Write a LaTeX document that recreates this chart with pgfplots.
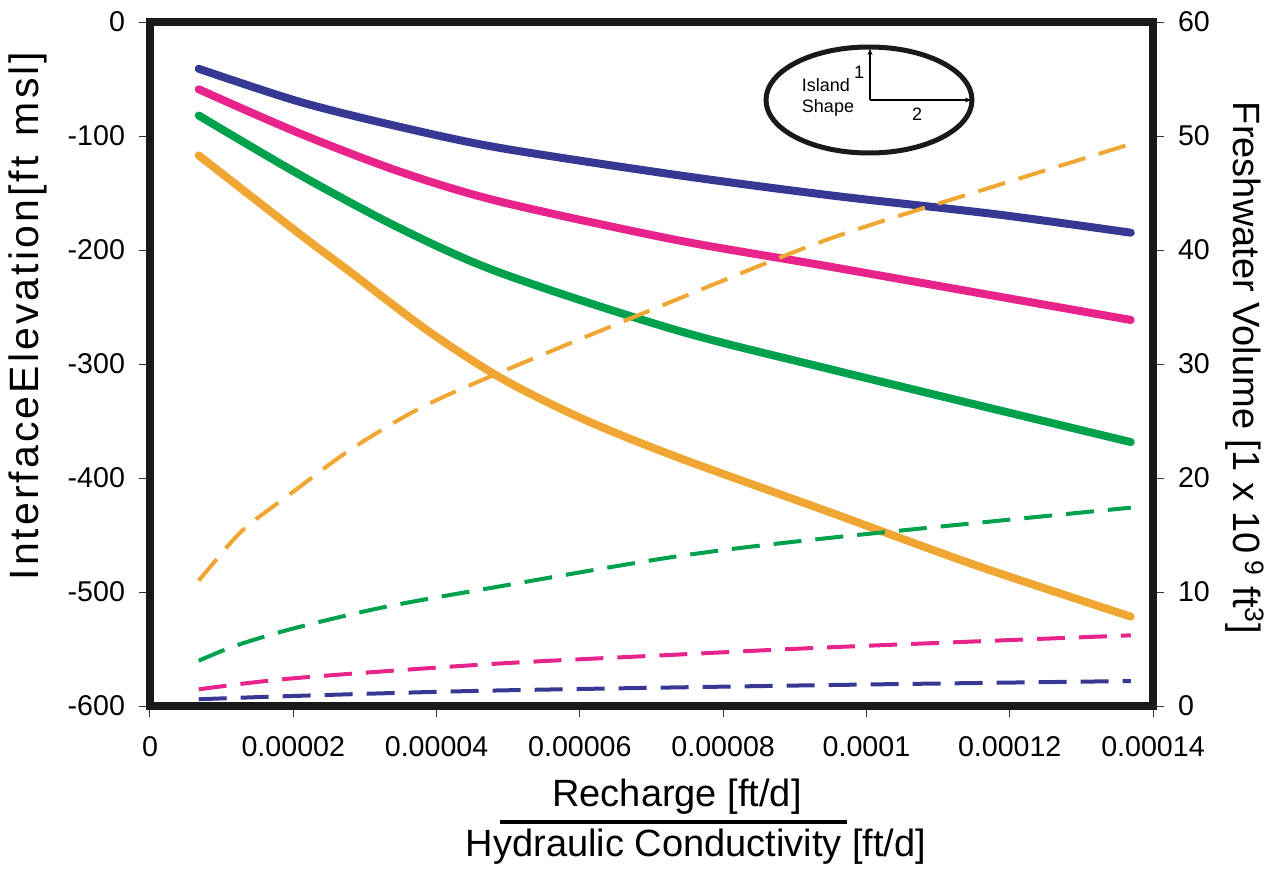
\documentclass[border=0pt]{standalone}
\usepackage{pgfplots}
\pgfplotsset{compat=1.18}
\usepackage{fontspec}
\setmainfont{Liberation Sans}
\newfontfamily\spacedfont[LetterSpace=7.5]{Liberation Sans}
\usetikzlibrary{arrows.meta}
\definecolor{cblue}{RGB}{54,56,148}
\definecolor{cpink}{RGB}{232,36,138}
\definecolor{cgreen}{RGB}{0,161,77}
\definecolor{corange}{RGB}{240,166,50}
\begin{document}
\begin{tikzpicture}[x=1pt,y=1pt]
\useasboundingbox (-75,-81.5) rectangle (559.5,353);
\pgfplotsset{
  common/.style={
    at={(0,0)}, anchor=south west, scale only axis,
    width=501.5pt, height=342pt,
    xmin=0, xmax=0.00014,
    tick align=outside,
    major tick length=5.5pt,
    tick style={line width=0.5pt, black!80},
    /pgf/number format/assume math mode=true,
    ticklabel style={font=\fontsize{14.3pt}{16pt}\selectfont},
    axis line style={line width=4pt, black!90},
    scaled x ticks=false,
  },
  solidl/.style={line width=4pt, line cap=round, line join=round, smooth},
  dashl/.style={line width=2pt, dash pattern=on 14pt off 7pt, smooth},
}
\begin{axis}[common,
  ymin=-600, ymax=0,
  ytick={-600,-500,...,0},
  xtick={0,0.00002,0.00004,0.00006,0.00008,0.0001,0.00012,0.00014},
  xticklabels={0,0.00002,0.00004,0.00006,0.00008,0.0001,0.00012,0.00014},
  xtick pos=bottom, ytick pos=left,
  xticklabel style={yshift=-6pt},
  yticklabel style={xshift=-3.5pt},
]
\addplot[solidl, cblue] coordinates {
(0.0000068,-41) (0.0000209,-70) (0.0000349,-92) (0.0000489,-110.5)
(0.0000733,-134) (0.0000949,-152) (0.0001179,-168.5) (0.0001369,-184.8)};
\addplot[solidl, cpink] coordinates {
(0.0000068,-59) (0.0000209,-97.7) (0.0000349,-131.3) (0.0000489,-157.6)
(0.0000733,-191) (0.0000949,-214.6) (0.0001369,-261.4)};
\addplot[solidl, cgreen] coordinates {
(0.0000068,-82) (0.0000209,-134) (0.0000349,-181) (0.0000489,-220)
(0.0000733,-270) (0.0000949,-304.5) (0.0001369,-368.5)};
\addplot[solidl, corange] coordinates {
(0.0000068,-117) (0.0000209,-186) (0.0000279,-219) (0.0000386,-270)
(0.0000489,-312) (0.000060,-347) (0.0000733,-381) (0.0000949,-430)
(0.000115,-476) (0.0001369,-521.6)};
\end{axis}
\begin{axis}[common,
  ymin=0, ymax=60,
  ytick={0,10,...,60},
  axis y line*=right,
  hide x axis,
  yticklabel style={xshift=3.5pt},
]
\addplot[dashl, corange] coordinates {
(0.0000068,11.0) (0.0000088,12.5) (0.0000116,14.56) (0.0000140,16.0)
(0.0000200,18.8) (0.0000279,22.46) (0.0000372,25.96) (0.0000475,28.9)
(0.0000733,35.6) (0.0000949,41.0) (0.0001179,45.6) (0.0001369,49.3)};
\addplot[dashl, cgreen] coordinates {
(0.0000068,3.97) (0.0000120,5.3) (0.0000200,6.8) (0.0000325,8.65)
(0.0000475,10.35) (0.0000733,13.1) (0.0000949,14.75) (0.0001369,17.4)};
\addplot[dashl, cpink] coordinates {
(0.0000068,1.46) (0.0000200,2.43) (0.0000475,3.68) (0.0000733,4.5)
(0.0000949,5.15) (0.0001369,6.2)};
\addplot[dashl, cblue] coordinates {
(0.0000068,0.59) (0.0000200,0.88) (0.0000475,1.35) (0.0000949,1.84)
(0.0001369,2.19)};
\end{axis}
% axis titles
\node[rotate=90, font=\spacedfont\fontsize{20.5pt}{23pt}\selectfont] at (-61,195) {InterfaceElevation[ft\enspace msl]};
\node[rotate=-90, font=\fontsize{19pt}{22pt}\selectfont] at (547.5,169) {Freshwater Volume [1 x 10\,\textsuperscript{9} ft\textsuperscript{3}]};
\node[font=\fontsize{19pt}{22pt}\selectfont] at (263.5,-45.5) {Recharge [ft/d]};
\draw[line width=2pt] (175,-57.8) -- (348.5,-57.8);
\node[font=\fontsize{19pt}{22pt}\selectfont] at (273,-70.5) {Hydraulic Conductivity [ft/d]};
% island shape inset
\draw[line width=2.5pt, black!90] (359.5,303) ellipse [x radius=51.5pt, y radius=26.5pt];
\draw[line width=0.7pt, -{Stealth[length=3pt,width=2.5pt]}] (360,303) -- (360,328.5);
\draw[line width=0.7pt, -{Stealth[length=3pt,width=2.5pt]}] (360,303) -- (410.5,303);
\node[font=\fontsize{9pt}{10.5pt}\selectfont, align=left] at (339,304.5) {Island\\Shape};
\node[font=\fontsize{9pt}{10.5pt}\selectfont] at (354.5,317) {1};
\node[font=\fontsize{9pt}{10.5pt}\selectfont] at (383.5,296) {2};
\end{tikzpicture}
\end{document}
